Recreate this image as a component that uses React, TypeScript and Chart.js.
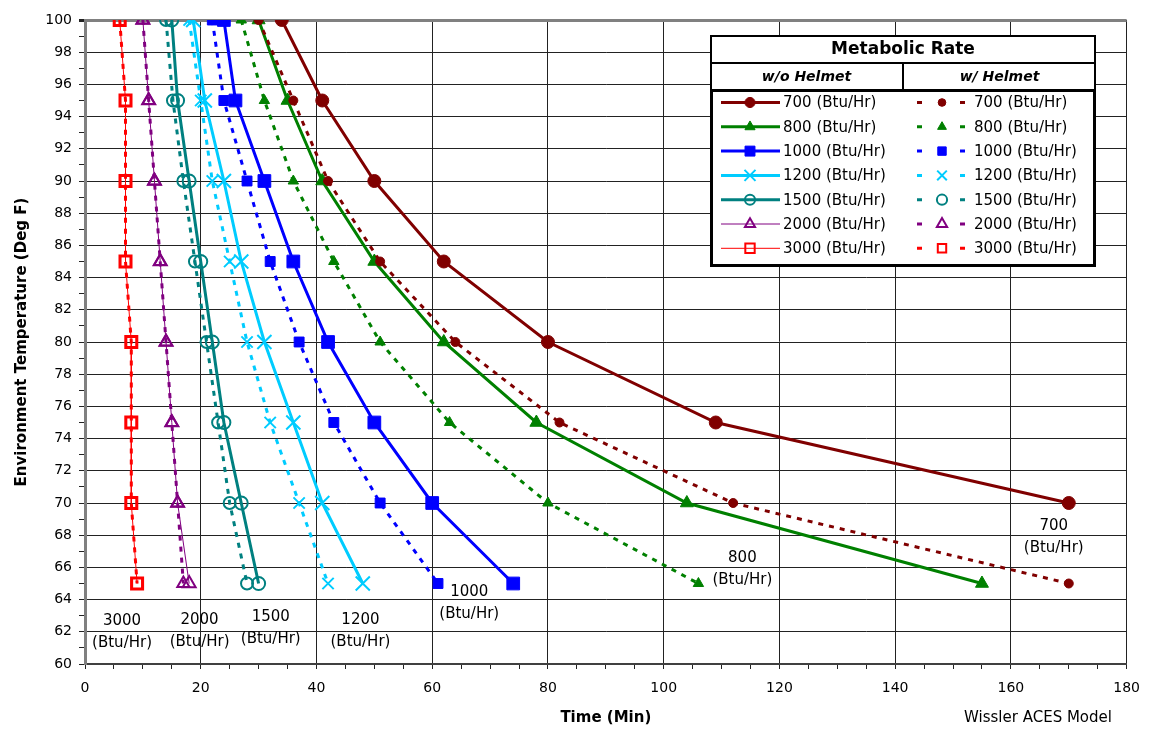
import React, { useEffect, useRef } from 'react';
import { Chart, registerables } from 'chart.js';
import { drawPoint } from 'chart.js/helpers';

Chart.register(...registerables);

// ---------- data ----------
const TEMPERATURES = [100, 95, 90, 85, 80, 75, 70, 65];
const RATE_LABELS = ['700', '800', '1000', '1200', '1500', '2000', '3000'];

// time (min) to reach limit, without helmet
const TIME_700_NO_HELMET = [34, 41, 50, 62, 80, 109, 170];
const TIME_800_NO_HELMET = [30, 35, 41, 50, 62, 78, 104, 155];
const TIME_1000_NO_HELMET = [24, 26, 31, 36, 42, 50, 60, 74];
const TIME_1200_NO_HELMET = [18.7, 20.7, 24, 27, 31, 36, 41, 48];
const TIME_1500_NO_HELMET = [15, 16, 18, 20, 22, 24, 27, 30];
const TIME_2000_NO_HELMET = [10, 11, 12, 13, 14, 15, 16, 18];
const TIME_3000_NO_HELMET = [6, 7, 7, 7, 8, 8, 8, 9];

// with helmet
const TIME_700_HELMET = [30, 36, 42, 51, 64, 82, 112, 170];
const TIME_800_HELMET = [27, 31, 36, 43, 51, 63, 80, 106];
const TIME_1000_HELMET = [22, 24, 28, 32, 37, 43, 51, 61];
const TIME_1200_HELMET = [18, 20, 22, 25, 28, 32, 37, 42];
const TIME_1500_HELMET = [14, 15.2, 17, 19, 21, 23, 25, 28];
const TIME_2000_HELMET = [10, 11, 12, 13, 14, 15, 16, 17];
const TIME_3000_HELMET = [6, 7, 7, 7, 8, 8, 8, 9];

const NO_HELMET = [
  TIME_700_NO_HELMET, TIME_800_NO_HELMET, TIME_1000_NO_HELMET, TIME_1200_NO_HELMET,
  TIME_1500_NO_HELMET, TIME_2000_NO_HELMET, TIME_3000_NO_HELMET,
];
const WITH_HELMET = [
  TIME_700_HELMET, TIME_800_HELMET, TIME_1000_HELMET, TIME_1200_HELMET,
  TIME_1500_HELMET, TIME_2000_HELMET, TIME_3000_HELMET,
];

const X_TICK_LABELS = [0, 20, 40, 60, 80, 100, 120, 140, 160, 180];
const Y_TICK_LABELS = [60, 62, 64, 66, 68, 70, 72, 74, 76, 78, 80, 82, 84, 86, 88, 90, 92, 94, 96, 98, 100];

const CURVE_LABELS = ['3000', '2000', '1500', '1200', '1000', '800', '700'];
const CURVE_UNIT = '(Btu/Hr)';
const FOOTNOTE = 'Wissler ACES Model';

// ---------- styles / layout (kept apart from data) ----------
const SERIES_STYLE = [
  { color: '#800000', shape: 'circle', filled: true, r: 6.5, rH: 4.5, w: 3 },
  { color: '#008000', shape: 'triangle', filled: true, r: 7.5, rH: 6, w: 3 },
  { color: '#0000FF', shape: 'rect', filled: true, r: 9, rH: 7, w: 3 },
  { color: '#00CCFF', shape: 'crossRot', filled: false, r: 10, rH: 8, w: 3 },
  { color: '#008080', shape: 'circle', filled: false, r: 6.5, rH: 6, w: 3 },
  { color: '#800080', shape: 'triangle', filled: false, r: 7.5, rH: 7, w: 1 },
  { color: '#FF0000', shape: 'rect', filled: false, r: 8.5, rH: 7, w: 1 },
];
// label anchors in data units (minutes, deg F)
const CURVE_LABEL_AT = [
  { x: 6.4, y: 62.0 }, { x: 19.8, y: 62.05 }, { x: 32.1, y: 62.2 }, { x: 47.6, y: 62.05 },
  { x: 66.4, y: 63.8 }, { x: 113.6, y: 65.9 }, { x: 167.4, y: 67.9 },
];
const FONT = 'DejaVu Sans';

const toPoints = (times: number[]) => times.map((t, i) => ({ x: t, y: TEMPERATURES[i] }));

function buildDatasets() {
  const out: any[] = [];
  RATE_LABELS.forEach((rate, i) => {
    const s = SERIES_STYLE[i];
    const fill = s.filled ? s.color : 'rgba(0,0,0,0)';
    out.push({
      label: `${rate} (Btu/Hr)`,
      data: toPoints(NO_HELMET[i]),
      showLine: true,
      borderColor: s.color,
      backgroundColor: fill,
      borderWidth: s.w,
      pointStyle: s.shape,
      pointRadius: s.r,
      pointBackgroundColor: fill,
      pointBorderColor: s.color,
      pointBorderWidth: s.filled ? 1 : 2,
      tension: 0,
    });
    out.push({
      label: `${rate} (Btu/Hr) helmet`,
      data: toPoints(WITH_HELMET[i]),
      showLine: true,
      borderColor: s.color,
      backgroundColor: fill,
      borderWidth: 3,
      borderDash: [5, 6],
      pointStyle: s.shape,
      pointRadius: s.rH,
      pointBackgroundColor: fill,
      pointBorderColor: s.color,
      pointBorderWidth: s.filled ? 1 : 2,
      tension: 0,
    });
  });
  return out;
}

function line(ctx: CanvasRenderingContext2D, x1: number, y1: number, x2: number, y2: number) {
  ctx.beginPath();
  ctx.moveTo(x1, y1);
  ctx.lineTo(x2, y2);
  ctx.stroke();
}

function drawMarker(ctx: CanvasRenderingContext2D, ds: any, x: number, y: number, scale: number) {
  ctx.save();
  ctx.setLineDash([]);
  ctx.fillStyle = ds.pointBackgroundColor;
  ctx.strokeStyle = ds.pointBorderColor;
  ctx.lineWidth = ds.pointBorderWidth;
  drawPoint(ctx, { pointStyle: ds.pointStyle, radius: ds.pointRadius * scale, rotation: 0, borderWidth: ds.pointBorderWidth } as any, x, y);
  ctx.restore();
}

function drawLegend(chart: any) {
  const ctx: CanvasRenderingContext2D = chart.ctx;
  const L = 710, T = 35, R = 1096, TB = 63, HB = 90, B = 266, MID = 903;
  ctx.save();
  ctx.fillStyle = '#fff';
  ctx.fillRect(L, T, R - L, B - T);
  ctx.strokeStyle = '#000';
  ctx.lineWidth = 2;
  ctx.strokeRect(L + 1, T + 1, R - L - 2, HB - T - 1);
  line(ctx, L + 1, TB, R - 1, TB);
  line(ctx, MID, TB, MID, HB);
  ctx.lineWidth = 3;
  ctx.strokeRect(L + 1.5, HB + 0.5, R - L - 3, B - HB - 1);

  ctx.fillStyle = '#000';
  ctx.textAlign = 'center';
  ctx.textBaseline = 'middle';
  ctx.font = `bold 17px "${FONT}"`;
  ctx.fillText('Metabolic Rate', (L + R) / 2, (T + TB) / 2 + 1);
  ctx.font = `italic bold 14px "${FONT}"`;
  ctx.fillText('w/o Helmet', (L + MID) / 2, (TB + HB) / 2 + 1);
  ctx.fillText('w/ Helmet', (MID + R) / 2, (TB + HB) / 2 + 1);

  const ds = chart.data.datasets;
  ctx.font = `15px "${FONT}"`;
  ctx.textAlign = 'left';
  RATE_LABELS.forEach((rate, i) => {
    const y = 102.5 + i * 24.3;
    const a = ds[2 * i];
    const b = ds[2 * i + 1];
    ctx.strokeStyle = a.borderColor;
    ctx.lineWidth = a.borderWidth;
    ctx.setLineDash([]);
    line(ctx, 721, y, 780, y);
    drawMarker(ctx, a, 750, y, 0.78);
    ctx.fillStyle = '#000';
    ctx.fillText(`${rate} (Btu/Hr)`, 783, y + 1);

    ctx.strokeStyle = b.borderColor;
    ctx.lineWidth = b.borderWidth;
    ctx.setLineDash([5, 38]);
    line(ctx, 917, y, 966, y);
    ctx.setLineDash([]);
    drawMarker(ctx, b, 942, y, 0.85);
    ctx.fillStyle = '#000';
    ctx.fillText(`${rate} (Btu/Hr)`, 974, y + 1);
  });
  ctx.restore();
}

const overlayPlugin = {
  id: 'overlay',
  afterDatasetsDraw(chart: any) {
    const ctx: CanvasRenderingContext2D = chart.ctx;
    const xs = chart.scales.x;
    const ys = chart.scales.y;
    ctx.save();
    ctx.fillStyle = '#000';
    ctx.font = `15px "${FONT}"`;
    ctx.textAlign = 'center';
    ctx.textBaseline = 'middle';
    CURVE_LABELS.forEach((lab, i) => {
      const p = CURVE_LABEL_AT[i];
      const px = xs.getPixelForValue(p.x);
      const py = ys.getPixelForValue(p.y);
      ctx.fillText(lab, px, py - 11);
      ctx.fillText(CURVE_UNIT, px, py + 11);
    });
    ctx.fillText(FOOTNOTE, 1038, 718);
    ctx.restore();
  },
  afterDraw(chart: any) {
    drawLegend(chart);
  },
};

export default function App() {
  const ref = useRef<HTMLCanvasElement>(null);
  useEffect(() => {
    if (!ref.current) return;
    Chart.defaults.font.family = FONT;
    const chart = new Chart(ref.current, {
      type: 'scatter',
      data: { datasets: buildDatasets() },
      plugins: [overlayPlugin],
      options: {
        animation: false,
        responsive: false,
        devicePixelRatio: 1,
        layout: { padding: { top: 20, right: 23, left: 0, bottom: 0 } },
        plugins: { legend: { display: false }, tooltip: { enabled: false } },
        elements: { line: { borderCapStyle: 'butt' } },
        scales: {
          x: {
            type: 'linear',
            min: 0,
            max: 180,
            afterFit: (s: any) => { s.height = 76; },
            ticks: {
              stepSize: 5,
              autoSkip: false,
              maxRotation: 0,
              padding: 11,
              color: '#000',
              font: { size: 14, family: FONT },
              callback: (v: any) => (X_TICK_LABELS.includes(Number(v)) ? String(v) : ''),
            },
            grid: {
              color: (c: any) => (c.tick && c.tick.value % 20 === 0 ? '#222' : 'rgba(0,0,0,0)'),
              tickColor: '#222',
              tickLength: 5,
              lineWidth: 1,
            },
            border: { color: '#404040', width: 2 },
            title: {
              display: true,
              text: 'Time (Min)',
              color: '#000',
              font: { size: 15, weight: 'bold', family: FONT },
              padding: { top: 0, bottom: 13 },
            },
          },
          y: {
            type: 'linear',
            min: 60,
            max: 100,
            afterFit: (s: any) => { s.width = 85; },
            ticks: {
              stepSize: 1,
              autoSkip: false,
              padding: 7,
              color: '#000',
              font: { size: 14, family: FONT },
              callback: (v: any) => (Y_TICK_LABELS.includes(Number(v)) ? String(v) : ''),
            },
            grid: {
              color: (c: any) => {
                const v = c.tick ? c.tick.value : 0;
                if (v === 100) return '#808080';
                return v % 2 === 0 ? '#222' : 'rgba(0,0,0,0)';
              },
              lineWidth: (c: any) => (c.tick && c.tick.value === 100 ? 3 : 1),
              tickColor: '#222',
              tickLength: 6,
            },
            border: { color: '#808080', width: 3 },
            title: {
              display: true,
              text: 'Environment Temperature (Deg F)',
              color: '#000',
              font: { size: 15, weight: 'bold', family: FONT },
              padding: { top: 13, bottom: 0 },
            },
          },
        },
      } as any,
    });
    return () => chart.destroy();
  }, []);
  return (
    <canvas
      ref={ref}
      width={1151}
      height={740}
      style={{ position: 'absolute', left: 0, top: 0, display: 'block' }}
    />
  );
}
